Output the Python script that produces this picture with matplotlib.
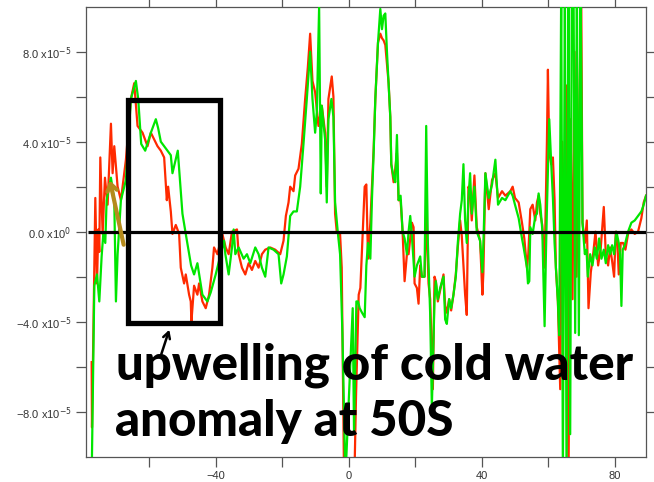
import numpy as np
import matplotlib

matplotlib.use("Agg")
import matplotlib.pyplot as plt
from matplotlib.patches import Rectangle
from matplotlib.ticker import FixedLocator, FuncFormatter


SCALE = 1e-5

# longitude / anomaly (units of 1e-5)
red_lon = [
    -77.3, -77.2, -76.5, -76.2, -75.7, -75.3, -75.0, -74.7, -74.0, -73.3,
    -72.5, -71.5, -71.0, -70.5, -69.5, -68.5, -67.0, -65.5, -64.5, -63.5,
    -62.0, -60.5, -59.5, -58.5, -57.5, -56.5, -55.5, -54.7, -54.3, -53.5,
    -53.0, -52.0, -51.0, -50.5, -49.5, -49.0, -48.0, -47.5, -47.3, -46.5,
    -45.5, -45.0, -44.0, -43.0, -42.0, -41.0, -40.5, -39.5, -38.0, -37.0,
    -36.1, -35.1, -33.6, -33.1, -32.1, -31.1, -30.1, -29.1, -28.1, -27.1,
    -26.1, -25.1, -23.6, -22.1, -20.6, -19.6, -18.9, -18.1, -17.6, -16.6,
    -16.1, -15.1, -14.1, -13.1, -12.3, -11.6, -10.9, -10.1, -9.1, -8.1,
    -7.1, -6.6, -6.1, -5.1, -4.6, -4.1, -3.6, -2.6, -2.1, -1.4,
    1.7, 2.2, 3.0, 3.5, 4.8, 5.3, 5.8, 6.5, 7.0, 7.5,
    8.0, 8.8, 9.5, 10.0, 10.5, 11.0, 12.0, 12.5, 12.8, 13.5,
    14.0, 14.5, 15.0, 15.6, 16.2, 16.8, 17.5, 18.0, 19.0, 19.5,
    19.8, 20.5, 21.0, 21.5, 22.0, 22.8, 23.3, 24.0, 24.5, 25.3,
    25.8, 26.2, 26.8, 27.5, 28.5, 29.0, 29.5, 30.2, 30.8, 31.5,
    32.2, 32.8, 33.5, 34.0, 35.0, 35.5, 36.0, 36.5, 37.0, 37.8,
    38.5, 39.5, 40.2, 40.5, 41.1, 42.1, 43.1, 44.1, 44.9, 46.1,
    47.1, 48.6, 49.3, 50.0, 51.1, 52.1, 52.8, 53.6, 54.0, 54.6,
    55.3, 56.1, 56.6, 57.1, 57.6, 58.2, 58.9, 59.6, 59.9, 60.3,
    60.9, 61.4, 61.9, 62.3, 62.9, 63.6, 64.2, 64.9, 65.4, 66.1,
    66.7, 67.3, 67.9, 68.5, 69.3, 69.9, 70.3, 71.0, 71.6, 72.1,
    72.8, 73.5, 74.2, 75.0, 75.8, 76.7, 77.3, 78.0, 78.6, 79.2,
    79.8, 80.3, 80.8, 81.2, 81.8, 82.5, 83.2, 84.0, 85.0, 86.0,
    87.0, 88.0, 88.7, 89.4,
]
red_anom = [
    -5.8, -8.7, -1.6, 1.5, -2.3, 0.1, -0.9, 3.3, -0.1, 2.4,
    1.2, 4.8, 2.6, 3.8, 2.0, 1.4, 3.2, 5.9, 6.6, 4.7,
    4.4, 3.8, 4.4, 4.1, 3.8, 3.6, 3.3, 1.4, 2.0, 0.9,
    -0.1, 0.3, -0.1, -1.6, -2.3, -1.9, -2.8, -3.1, -4.0, -2.4,
    -2.8, -2.3, -3.1, -3.4, -2.8, -1.6, -0.7, -1.0, -0.1, -0.7,
    -1.0, 0.0, 0.1, -1.0, -1.6, -1.9, -1.4, -1.7, -1.3, -1.6,
    -1.0, -0.8, -0.7, -0.8, -1.0, -0.4, 0.7, 1.3, 2.0, 1.8,
    2.5, 2.8, 3.9, 5.9, 7.3, 8.8, 6.7, 6.2, 4.7, 5.6,
    4.4, 2.0, 5.9, 6.9, 6.0, 0.8, 0.0, -0.1, -1.6, -11.0,
    -11.0, -7.3, -2.8, -2.5, 2.0, 2.1, -1.2, 0.4, 2.0, 3.7,
    5.9, 8.4, 8.8, 8.6, 8.5, 8.3, 6.6, 5.1, 3.0, 2.2,
    2.8, 3.5, 1.4, 1.4, 0.0, -2.2, -1.0, -1.0, 0.4, 0.2,
    -2.3, -2.5, -3.2, -1.5, -2.0, -2.0, 1.0, -2.3, -3.0, -7.0,
    -2.0, -2.2, -3.1, -2.6, -1.9, -3.3, -3.6, -3.0, -3.5, -2.8,
    -1.9, -0.7, 0.5, -0.2, -2.8, -3.7, 2.0, 1.8, 0.5, 2.5,
    0.2, -0.4, -2.8, -1.8, 2.6, 1.0, 2.3, 2.6, 1.5, 1.8,
    1.6, 1.8, 2.0, 1.5, 1.3, 0.4, -0.3, -1.6, -1.0, 1.0,
    1.2, 0.5, 1.3, 1.6, 0.8, 0.3, -1.6, 4.0, 7.2, 3.5,
    3.0, 3.3, 1.4, -1.6, -3.1, -7.0, 4.0, -2.0, 6.5, -11.0,
    5.0, -3.0, 8.0, -2.0, 5.0, 11.0, 0.4, -0.5, 0.5, -3.4,
    -1.8, -1.0, 0.0, -1.5, -0.7, 1.1, -1.0, -1.5, -0.7, -1.3,
    -2.0, 0.0, -0.5, -1.9, -0.5, -0.5, -0.8, -0.1, 0.1, -0.1,
    0.0, 0.6, 1.3, 1.6,
]

green_lon = [
    -77.3, -76.5, -75.7, -75.0, -74.3, -73.8, -73.2, -72.8, -71.5, -70.5,
    -70.0, -69.5, -68.5, -67.0, -65.5, -64.0, -63.3, -62.4, -61.2, -59.5,
    -58.0, -57.3, -56.5, -55.5, -53.5, -53.0, -51.4, -50.0, -49.0, -47.4,
    -46.5, -45.5, -44.0, -42.5, -41.5, -40.0, -38.5, -37.5, -37.1, -36.1,
    -35.1, -34.6, -34.1, -33.1, -31.6, -30.6, -29.6, -28.1, -27.1, -26.1,
    -25.1, -24.1, -22.6, -21.1, -20.3, -19.6, -18.6, -17.6, -16.6, -15.6,
    -14.6, -13.6, -12.6, -11.6, -10.9, -10.1, -9.6, -8.9, -8.4, -8.1,
    -7.1, -6.6, -6.1, -5.2, -4.6, -4.1, -3.3, -2.6, -1.9, -1.0,
    1.2, 1.6, 2.3, 2.8, 3.3, 4.0, 4.8, 5.3, 5.8, 6.5,
    7.0, 7.5, 8.0, 8.8, 9.5, 10.0, 10.5, 11.0, 11.5, 12.0,
    12.5, 12.8, 13.5, 14.0, 14.5, 15.0, 15.6, 16.2, 16.8, 17.5,
    18.0, 18.5, 19.0, 19.8, 20.5, 21.5, 22.0, 22.8, 23.3, 23.8,
    24.5, 25.0, 25.8, 26.2, 26.8, 27.5, 28.5, 29.0, 29.5, 30.2,
    30.8, 31.5, 32.2, 32.8, 33.5, 34.0, 34.5, 35.0, 35.5, 36.0,
    36.5, 37.0, 37.8, 38.5, 39.5, 40.2, 40.5, 41.1, 42.1, 43.1,
    44.1, 44.9, 46.1, 47.1, 48.6, 49.3, 50.0, 51.1, 52.1, 52.6,
    53.6, 53.9, 54.3, 54.6, 55.3, 56.1, 56.6, 57.1, 57.6, 58.2,
    58.9, 59.3, 59.6, 60.3, 60.9, 61.4, 61.9, 62.3, 62.9, 63.3,
    63.9, 64.4, 65.0, 65.5, 66.1, 66.6, 67.1, 67.6, 68.1, 68.6,
    69.2, 69.7, 70.1, 70.3, 71.0, 71.5, 71.9, 72.6, 73.3, 74.0,
    74.6, 75.3, 76.0, 76.7, 77.3, 78.0, 78.6, 79.2, 79.8, 80.5,
    81.2, 81.6, 82.0, 82.4, 83.0, 84.0, 85.0, 86.0, 87.0, 88.0,
    88.7, 89.4,
]
green_anom = [
    -11.0, -2.4, -1.9, -3.1, -1.1, -0.1, -0.5, 1.4, 2.4, 1.4,
    -3.1, -1.0, 1.4, 2.3, 5.9, 6.7, 5.9, 3.9, 3.6, 4.4,
    5.0, 4.6, 4.0, 3.8, 3.4, 2.6, 3.6, 0.8, -0.1, -1.5,
    -1.9, -1.4, -2.8, -3.1, -2.7, -1.9, -1.0, -0.4, -1.0, -1.9,
    -0.7, 0.1, -1.0, -0.7, -1.2, -1.0, -1.4, -0.7, -1.0, -1.6,
    -2.0, -0.7, -0.8, -1.0, -2.3, -1.9, -1.1, 0.7, 0.9, 0.9,
    2.0, 3.9, 5.9, 8.0, 5.9, 4.4, 5.3, 10.0, 1.7, 5.6,
    4.1, 1.3, 5.0, 5.9, 5.1, 1.3, 0.0, -1.0, -4.5, -11.0,
    -3.4, -9.0, -3.1, -3.1, -3.4, -3.6, -3.8, -1.5, -0.5, -1.2,
    1.5, 3.5, 5.9, 8.4, 9.9, 9.0, 9.6, 9.7, 8.0, 6.5,
    5.1, 3.0, 2.4, 2.2, 4.3, 1.4, 1.6, 0.0, -0.3, -1.0,
    0.0, 0.7, -0.2, -2.0, -1.5, -1.1, -2.0, -2.0, 4.7, -0.5,
    -3.7, -7.8, -3.0, -2.2, -3.0, -2.5, -2.0, -3.9, -4.1, -3.0,
    -3.4, -2.8, -2.0, -0.5, 0.8, 1.4, 3.0, 0.5, -0.5, 1.5,
    2.6, 0.8, 2.0, 0.0, -0.4, -1.8, -0.5, 2.6, 1.5, 2.1,
    3.2, 1.2, 1.5, 1.4, 1.8, 1.6, 1.2, 0.6, -0.3, -0.7,
    -1.6, -2.3, -2.2, 0.2, -0.1, 0.7, 0.8, 1.7, 1.2, 0.1,
    -4.2, -1.0, 1.0, 5.0, 3.0, 1.5, -0.5, -1.6, -3.1, -4.6,
    11.0, -11.0, 11.0, -11.0, 11.0, -9.0, 11.0, 11.0, -4.5, 11.0,
    -4.6, 11.0, 4.4, 0.4, -1.0, -0.8, -2.0, -1.0, -1.5, -0.7,
    -1.2, -0.3, -1.2, -0.8, -1.4, -0.6, -1.0, -0.6, -1.0, 0.0,
    -0.5, -1.0, -3.3, -0.8, -0.6, 0.0, 0.4, 0.5, 0.7, 0.9,
    1.2, 1.6,
]

x_ticks = [-40, 0, 40, 80]
x_minor = [-60, -20, 20, 60]
y_ticks = [-8, -4, 0, 4, 8]
y_minor = [-6, -2, 2, 6]

RED = "#ff2a00"
GREEN = "#00e600"
OLIVE = "#b48a1c"
AXIS_GREY = "#555555"


def y_label(v, pos):
    if abs(v) < 1e-12:
        return r"0.0 x10$^{0}$"
    s = f"{v / SCALE:.1f}".replace("-", "\u2212")
    return s + r" x10$^{-5}$"


def x_label(v, pos):
    return f"{v:.0f}".replace("-", "\u2212")


fig = plt.figure(figsize=(6.54, 4.82), dpi=100)
ax = fig.add_axes([0.1315, 0.0525, 0.8563, 0.9336])

ax.plot(red_lon, np.array(red_anom) * SCALE, color=RED, lw=1.6, zorder=2)
ax.plot(green_lon, np.array(green_anom) * SCALE, color=GREEN, lw=1.6, zorder=3)
ax.hlines(0, -78.3, 89.5, color="black", lw=2.3, zorder=4)

ax.set_xlim(-79, 89.4)
ax.set_ylim(-10 * SCALE, 10 * SCALE)

ax.xaxis.set_major_locator(FixedLocator(x_ticks))
ax.xaxis.set_minor_locator(FixedLocator(x_minor))
ax.yaxis.set_major_locator(FixedLocator([v * SCALE for v in y_ticks]))
ax.yaxis.set_minor_locator(FixedLocator([v * SCALE for v in y_minor]))
ax.xaxis.set_major_formatter(FuncFormatter(x_label))
ax.yaxis.set_major_formatter(FuncFormatter(y_label))

ax.tick_params(which="both", direction="out", length=7.5, width=0.9,
               color=AXIS_GREY, top=True, right=True,
               labelsize=8, labelcolor="#333333")
ax.tick_params(axis="y", pad=3)
ax.tick_params(axis="x", pad=3)
for sp in ax.spines.values():
    sp.set_color(AXIS_GREY)
    sp.set_linewidth(0.9)
for lab in ax.get_xticklabels() + ax.get_yticklabels():
    lab.set_family("Liberation Sans")

# box around the 50S upwelling signal
ax.add_patch(Rectangle((-66.5, -4.06 * SCALE), 27.8, 9.91 * SCALE,
                       fill=False, ec="black", lw=3.8, zorder=5))

ax.annotate("", xy=(-72.0, 2.4 * SCALE), xytext=(-67.5, -0.7 * SCALE),
            arrowprops=dict(arrowstyle="->,head_length=0.5,head_width=0.35",
                            color=OLIVE, lw=3), zorder=6)
ax.annotate("", xy=(-53.7, -4.24 * SCALE), xytext=(-56.7, -5.6 * SCALE),
            arrowprops=dict(arrowstyle="->,head_length=0.45,head_width=0.25",
                            color="black", lw=1.8), zorder=6)

ax.text(-70.0, -6.55 * SCALE, "upwelling of cold water", fontsize=35.5,
        fontweight=900, family="Lato", va="baseline", ha="left", zorder=7)
ax.text(-70.2, -9.1 * SCALE, "anomaly at 50S", fontsize=35.5,
        fontweight=900, family="Lato", va="baseline", ha="left", zorder=7)

fig.savefig("out.png", dpi=100)
